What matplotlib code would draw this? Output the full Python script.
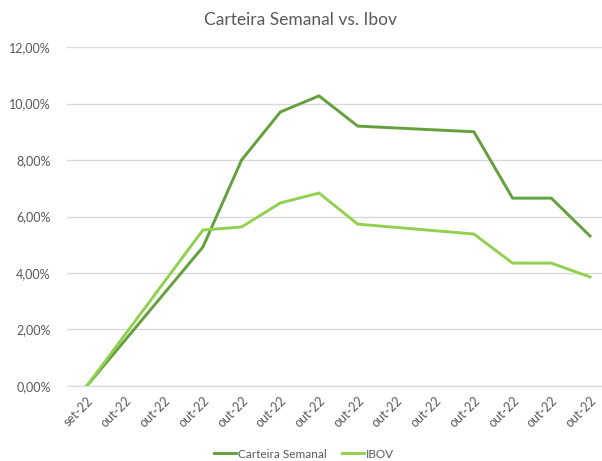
import numpy as np
import matplotlib
matplotlib.use("Agg")
from matplotlib import pyplot as plt

# data (blank weeks left as NaN, Excel joins the points)
labels = ["set-22"] + ["out-22"] * 13
carteira = [0.0, np.nan, np.nan, 4.92, 8.00, 9.70, 10.27, 9.20,
            np.nan, np.nan, 9.00, 6.65, 6.65, 5.31]
ibov = [0.0, np.nan, np.nan, 5.52, 5.63, 6.48, 6.83, 5.73,
        np.nan, np.nan, 5.38, 4.35, 4.35, 3.86]

plt.rcParams['font.family'] = ['Lato', 'DejaVu Sans']

fig = plt.figure(figsize=(6.02, 4.61), dpi=100)
ax = fig.add_axes([0.112, 0.1627, 0.888, 0.7353])

x = np.arange(len(labels))
c = np.array(carteira)
b = np.array(ibov)
mc = ~np.isnan(c)
mb = ~np.isnan(b)
ax.plot(x[mc], c[mc], color='#64A03C', lw=2.1, label='Carteira Semanal',
        solid_joinstyle='miter')
ax.plot(x[mb], b[mb], color='#92D050', lw=2.1, label='IBOV',
        solid_joinstyle='miter')

ax.set_xlim(-0.5, 13.31)
ax.set_ylim(0, 12)
ax.set_yticks(np.arange(0, 13, 2))
ax.set_yticklabels([("%.2f%%" % v).replace('.', ',') for v in np.arange(0, 13, 2)])
ax.set_xticks(x)
ax.set_xticklabels(labels, rotation=45, ha='right', rotation_mode='anchor')

ax.grid(axis='y', color='#D9D9D9', lw=1)
ax.set_axisbelow(True)
for s in ['top', 'right', 'left']:
    ax.spines[s].set_visible(False)
ax.spines['bottom'].set_color('#D9D9D9')
ax.tick_params(axis='both', length=0, colors='#595959', labelsize=9)
ax.tick_params(axis='y', pad=12)
ax.tick_params(axis='x', pad=6)

fig.suptitle('Carteira Semanal vs. Ibov', x=0.5, y=0.975, fontsize=12.5,
             color='#595959')
fig.legend(loc='lower center', bbox_to_anchor=(0.505, -0.02), ncol=2,
           frameon=False, fontsize=8.5, labelcolor='#595959',
           handlelength=1.9, columnspacing=1.3, handletextpad=0.15)

fig.savefig('out.png', dpi=100)
